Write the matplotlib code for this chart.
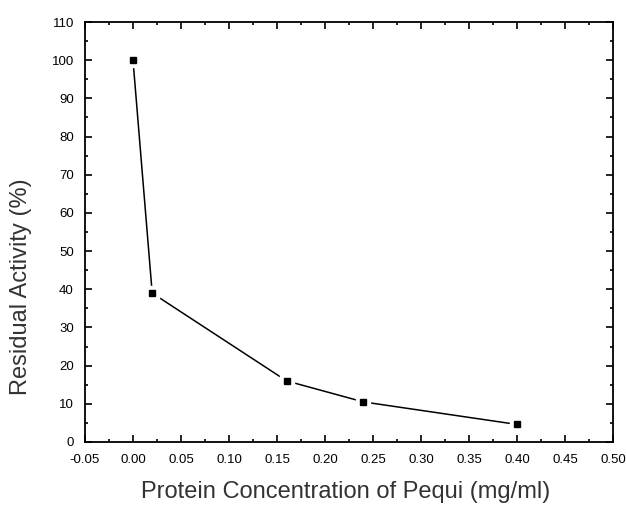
import matplotlib
matplotlib.use("Agg")
import matplotlib.pyplot as plt
from matplotlib.ticker import MultipleLocator, FormatStrFormatter

conc = [0.0, 0.02, 0.16, 0.24, 0.40]
activity = [100, 39, 16, 10.5, 4.6]

plt.rcParams['font.family'] = ['Liberation Sans', 'DejaVu Sans']

fig = plt.figure(figsize=(6.26, 5.09), dpi=100)
ax = fig.add_axes([85/626, 1-442/509, 528/626, 420/509])

ax.plot(conc, activity, color='black', lw=1.1, zorder=2)
ax.plot(conc, activity, ls='none', marker='s', ms=10, color='white', mec='white', zorder=3)
ax.plot(conc, activity, ls='none', marker='s', ms=5, color='black', mec='black', zorder=4)

ax.set_xlim(-0.05, 0.50)
ax.set_ylim(0, 110)
ax.xaxis.set_major_locator(MultipleLocator(0.05))
ax.xaxis.set_minor_locator(MultipleLocator(0.025))
ax.yaxis.set_major_locator(MultipleLocator(10))
ax.yaxis.set_minor_locator(MultipleLocator(5))
ax.xaxis.set_major_formatter(FormatStrFormatter('%.2f'))
ax.yaxis.set_major_formatter(FormatStrFormatter('%d'))

for s in ax.spines.values():
    s.set_linewidth(1.3)
ax.tick_params(which='both', direction='in', top=True, right=True, width=1.2, labelsize=9.5, colors='black')
ax.tick_params(which='major', length=5)
ax.tick_params(which='minor', length=2.5)
ax.tick_params(axis='x', which='major', pad=8.5)
ax.tick_params(axis='y', which='major', pad=8)

ax.set_xlabel('Protein Concentration of Pequi (mg/ml)', fontsize=17, color='#333333')
ax.set_ylabel('Residual Activity (%)', fontsize=17, color='#333333')
ax.xaxis.set_label_coords(0.494, -0.093)
ax.yaxis.set_label_coords(-0.100, 0.369)

fig.savefig('out.png', dpi=100, facecolor='white')
